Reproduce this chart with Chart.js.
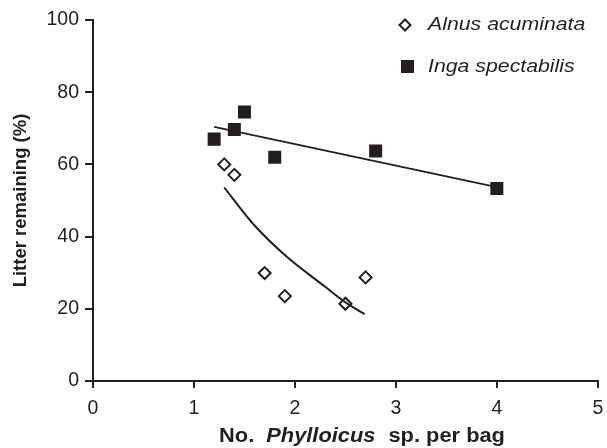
<!DOCTYPE html>
<html>
<head>
<meta charset="utf-8">
<script src="https://cdn.jsdelivr.net/npm/chart.js@4"></script>
<style>
  html, body { margin:0; padding:0; background:#fff; }
  #wrap { width:607px; height:448px; position:relative; }
</style>
</head>
<body>
<div id="wrap"><canvas id="c"></canvas></div>
<script>
// Data
const alnusX = [1.3, 1.4, 1.7, 1.9, 2.5, 2.7];
const alnusY = [60.0, 57.1, 29.9, 23.5, 21.4, 28.7];
const ingaX  = [1.2, 1.4, 1.5, 1.8, 2.8, 4.0];
const ingaY  = [67.0, 69.7, 74.5, 62.0, 63.7, 53.3];
// fitted lines as drawn in the figure
const ingaFitX  = [1.2, 4.0];
const ingaFitY  = [70.4, 53.7];
const alnusFitX = [1.3, 1.58, 1.92, 2.3, 2.49, 2.69];
const alnusFitY = [53.6, 43.7, 34.4, 26.1, 22.0, 18.5];
const xTicks = [0, 1, 2, 3, 4, 5];
const yTicks = [0, 20, 40, 60, 80, 100];

const FONT = "'Liberation Sans', Arial, Helvetica, sans-serif";
const INK = "#231f20";
const STRETCH = 1.12; // text in the figure is a bit wide

const pts = (xs, ys) => xs.map((x, i) => ({ x, y: ys[i] }));

function wideText(ctx, text, x, y, font) {
    ctx.save();
    ctx.font = font;
    ctx.translate(x, y);
    ctx.scale(STRETCH, 1);
    ctx.fillText(text, 0, 0);
    const w = ctx.measureText(text).width * STRETCH;
    ctx.restore();
    return w;
}

// legend + mixed-style x title
const extras = {
    id: "extras",
    afterDraw(chart) {
        const ctx = chart.ctx;
        ctx.save();
        ctx.fillStyle = INK;
        ctx.strokeStyle = INK;
        ctx.textBaseline = "middle";
        ctx.textAlign = "left";

        // legend
        ctx.lineWidth = 2;
        ctx.beginPath();
        const dx = 405, dy = 25, r = 5.5;
        ctx.moveTo(dx, dy - r); ctx.lineTo(dx + r, dy); ctx.lineTo(dx, dy + r); ctx.lineTo(dx - r, dy); ctx.closePath();
        ctx.fillStyle = "#fff"; ctx.fill(); ctx.stroke();
        ctx.fillStyle = INK;
        ctx.fillRect(401, 60, 13, 13);
        wideText(ctx, "Alnus acuminata", 428, 25, `italic 19px ${FONT}`);
        wideText(ctx, "Inga spectabilis", 428, 67, `italic 19px ${FONT}`);

        // x title
        const parts = [
            ["No.", `bold 19.5px ${FONT}`, 12],
            ["Phylloicus", `italic bold 19.5px ${FONT}`, 13],
            ["sp. per bag", `bold 19.5px ${FONT}`, 0]
        ];
        let w = 0;
        parts.forEach(([t, f, gap]) => { ctx.font = f; w += ctx.measureText(t).width * STRETCH + gap; });
        let x = 362 - w / 2;
        parts.forEach(([t, f, gap]) => { x += wideText(ctx, t, x, 437, f) + gap; });
        ctx.restore();
    }
};

new Chart(document.getElementById("c"), {
    type: "scatter",
    data: {
        datasets: [
            {
                label: "Alnus fit", type: "line", data: pts(alnusFitX, alnusFitY),
                borderColor: INK, borderWidth: 2, pointRadius: 0, fill: false,
                cubicInterpolationMode: "monotone", order: 0
            },
            {
                label: "Inga fit", type: "line", data: pts(ingaFitX, ingaFitY),
                borderColor: INK, borderWidth: 1.8, pointRadius: 0, fill: false, order: 0
            },
            {
                label: "Alnus acuminata", data: pts(alnusX, alnusY),
                pointStyle: "rectRot", pointRadius: 6, pointBorderWidth: 2,
                pointBackgroundColor: "#fff", pointBorderColor: INK, order: 1
            },
            {
                label: "Inga spectabilis", data: pts(ingaX, ingaY),
                pointStyle: "rect", pointRadius: 9.2, pointBorderWidth: 0,
                pointBackgroundColor: INK, pointBorderColor: INK, order: 1
            }
        ]
    },
    options: {
        responsive: true, maintainAspectRatio: false, animation: false,
        layout: { padding: { top: 20, right: 5, bottom: 0, left: 0 } },
        plugins: { legend: { display: false }, tooltip: { enabled: false } },
        scales: {
            x: {
                type: "linear", min: 0, max: 5,
                afterBuildTicks: s => { s.ticks = xTicks.map(v => ({ value: v })); },
                afterFit: s => { s.height = 67; s.paddingLeft = 0; s.paddingRight = 0; },
                border: { color: INK, width: 2 },
                grid: { drawOnChartArea: false, drawTicks: true, tickLength: 7, color: INK, lineWidth: 2 },
                ticks: { color: INK, font: { family: FONT, size: 19.5 }, padding: 9, maxRotation: 0 }
            },
            y: {
                type: "linear", min: 0, max: 100,
                afterBuildTicks: s => { s.ticks = yTicks.map(v => ({ value: v })); },
                afterFit: s => { s.width = 93; s.paddingTop = 0; s.paddingBottom = 0; },
                border: { color: INK, width: 2 },
                grid: { drawOnChartArea: false, drawTicks: true, tickLength: 8, color: INK, lineWidth: 2 },
                ticks: { color: INK, font: { family: FONT, size: 19.5 }, padding: 6 },
                title: {
                    display: true, text: "Litter remaining (%)", color: INK,
                    font: { family: FONT, size: 18.5, weight: "bold" }, padding: { top: 10, bottom: 0 }
                }
            }
        }
    },
    plugins: [extras]
});
</script>
</body>
</html>
